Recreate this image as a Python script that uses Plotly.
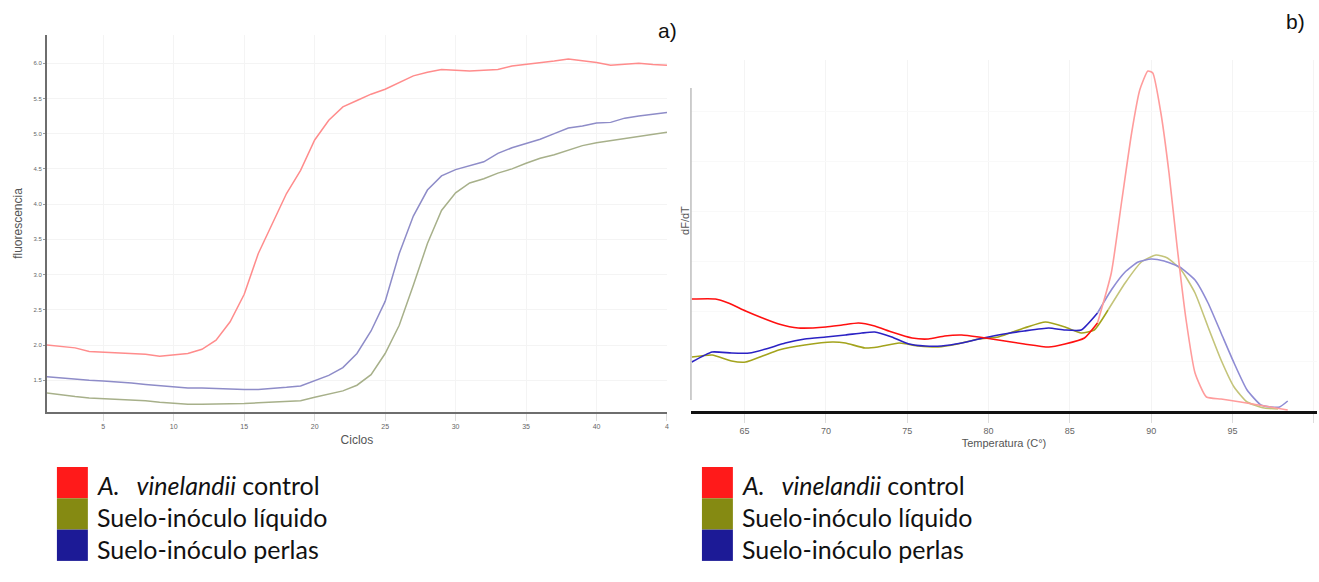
import plotly.graph_objects as go

W, H = 1319, 582

# ---------- Panel a) amplification curves ----------
cycles = list(range(1, 46))
a_control = [2.00, 1.98, 1.96, 1.91, 1.90, 1.89, 1.89, 1.87, 1.84, 1.86,
             1.88, 1.94, 2.07, 2.33, 2.72, 3.30, 3.72, 4.15, 4.48, 4.91,
             5.19, 5.38, 5.47, 5.56, 5.63, 5.73, 5.82, 5.87, 5.91, 5.90,
             5.89, 5.90, 5.91, 5.96, 5.98, 6.00, 6.03, 6.06, 6.04, 6.01,
             5.97, 5.98, 6.00, 5.98, 5.97]
a_liquido = [1.32, 1.29, 1.27, 1.25, 1.24, 1.24, 1.23, 1.21, 1.19, 1.17,
             1.16, 1.16, 1.16, 1.17, 1.17, 1.18, 1.19, 1.20, 1.21, 1.26,
             1.30, 1.35, 1.43, 1.58, 1.88, 2.28, 2.85, 3.44, 3.91, 4.16,
             4.30, 4.36, 4.44, 4.50, 4.58, 4.65, 4.70, 4.76, 4.83, 4.87,
             4.90, 4.92, 4.95, 4.98, 5.02]
a_perlas = [1.55, 1.53, 1.52, 1.50, 1.49, 1.48, 1.46, 1.44, 1.42, 1.40,
            1.39, 1.39, 1.38, 1.38, 1.37, 1.37, 1.38, 1.40, 1.42, 1.49,
            1.57, 1.68, 1.88, 2.20, 2.62, 3.30, 3.83, 4.20, 4.40, 4.49,
            4.54, 4.60, 4.72, 4.80, 4.86, 4.92, 5.00, 5.08, 5.11, 5.15,
            5.16, 5.22, 5.25, 5.27, 5.30]
a_xticks = [5, 10, 15, 20, 25, 30, 35, 40, 45]
a_xticklabels = ["5", "10", "15", "20", "25", "30", "35", "40", "4"]
a_yticks = [1.5, 2.0, 2.5, 3.0, 3.5, 4.0, 4.5, 5.0, 5.5, 6.0]

# ---------- Panel b) melting curves ----------
b_T_control = [61.75, 63.2, 64.0, 65.06, 66.1, 67.1, 68.3, 70.0, 71.0, 72.0,
               73.0, 74.05, 75.3, 76.3, 77.3, 78.35, 79.4, 80.6, 82.2, 83.7,
               84.7, 85.9, 86.7, 87.55, 88.2, 88.8, 89.3, 89.8, 90.1, 90.6,
               91.1, 91.6, 92.15, 92.7, 93.4, 94.3, 95.5, 96.96, 98.4]
b_control = [1.12, 1.12, 1.08, 1.00, 0.93, 0.87, 0.83, 0.84, 0.86, 0.88,
             0.85, 0.79, 0.73, 0.72, 0.75, 0.76, 0.74, 0.71, 0.67, 0.64,
             0.67, 0.73, 0.88, 1.38, 2.11, 2.78, 3.21, 3.40, 3.38, 2.98,
             2.38, 1.64, 0.91, 0.38, 0.14, 0.12, 0.09, 0.05, 0.01]
b_T_liquido = [61.75, 63.0, 64.2, 65.06, 66.1, 67.1, 68.7, 70.4, 71.2, 72.4,
               73.2, 74.5, 75.7, 76.9, 78.1, 79.4, 80.6, 82.2, 83.5, 84.7,
               85.7, 86.5, 87.35, 88.4, 89.4, 90.3, 91.0, 91.85, 92.7, 93.5,
               94.3, 95.1, 95.9, 96.96, 97.8]
b_liquido = [0.54, 0.56, 0.50, 0.49, 0.55, 0.61, 0.66, 0.69, 0.68, 0.63,
             0.64, 0.68, 0.65, 0.64, 0.67, 0.72, 0.74, 0.83, 0.89, 0.84,
             0.78, 0.81, 1.01, 1.28, 1.49, 1.56, 1.53, 1.41, 1.18, 0.84,
             0.51, 0.24, 0.09, 0.03, 0.02]
b_T_perlas = [61.75, 63.0, 64.2, 65.3, 66.3, 67.5, 68.7, 70.0, 71.2, 72.2,
              73.0, 74.05, 75.1, 76.1, 77.1, 78.35, 79.4, 80.6, 82.2, 83.7,
              84.7, 85.7, 86.7, 87.55, 88.4, 89.2, 90.0, 90.8, 91.75, 92.7,
              93.5, 94.3, 95.1, 95.9, 96.75, 97.4, 97.9, 98.4]
b_perlas = [0.49, 0.59, 0.58, 0.58, 0.62, 0.68, 0.72, 0.74, 0.76, 0.78,
            0.79, 0.74, 0.67, 0.65, 0.65, 0.68, 0.72, 0.76, 0.80, 0.83,
            0.81, 0.81, 0.98, 1.21, 1.39, 1.49, 1.52, 1.50, 1.44, 1.31,
            1.08, 0.78, 0.48, 0.21, 0.06, 0.04, 0.04, 0.10]
b_xticks = [65, 70, 75, 80, 85, 90, 95, 100]

legend_labels = ["<i>A.   vinelandii</i> control", "Suelo-inóculo líquido", "Suelo-inóculo perlas"]
legend_colors = ["#ff1a1a", "#858a12", "#1c1a96"]

fig = go.Figure()

# panel a traces
fig.add_trace(go.Scatter(x=cycles, y=a_control, mode="lines", line=dict(color="#ff8c8c", width=1.5),
                         xaxis="x", yaxis="y", showlegend=False))
fig.add_trace(go.Scatter(x=cycles, y=a_liquido, mode="lines", line=dict(color="#a7b08a", width=1.5),
                         xaxis="x", yaxis="y", showlegend=False))
fig.add_trace(go.Scatter(x=cycles, y=a_perlas, mode="lines", line=dict(color="#8e8cc8", width=1.5),
                         xaxis="x", yaxis="y", showlegend=False))


def split_add(T, v, cut, c_left, c_right):
    left_T = [t for t in T if t <= cut]
    n = len(left_T)
    fig.add_trace(go.Scatter(x=T[:n + 1], y=v[:n + 1], mode="lines",
                             line=dict(color=c_left, width=1.6, shape="spline", smoothing=0.5),
                             xaxis="x2", yaxis="y2", showlegend=False))
    fig.add_trace(go.Scatter(x=T[n:], y=v[n:], mode="lines",
                             line=dict(color=c_right, width=1.6, shape="spline", smoothing=0.5),
                             xaxis="x2", yaxis="y2", showlegend=False))


split_add(b_T_liquido, b_liquido, 86.6, "#a3a31c", "#c4c47a")
split_add(b_T_perlas, b_perlas, 86.6, "#2b22c4", "#8f8cd4")
split_add(b_T_control, b_control, 86.6, "#ff1010", "#ff9c9c")

grid = "#f4f4f4"
tickc = "#666666"

xa_dom = [47 / W, 668 / W]
ya_dom = [1 - 412 / H, 1 - 35 / H]
xb_dom = [692 / W, 1.0]
yb_dom = [1 - 411 / H, 1 - 60 / H]

fig.update_layout(
    width=W, height=H,
    margin=dict(l=0, r=0, t=0, b=0),
    paper_bgcolor="white", plot_bgcolor="white",
    font=dict(family="Liberation Sans, Arial, sans-serif"),
    xaxis=dict(domain=xa_dom, range=[1, 45], tickmode="array", tickvals=a_xticks,
               ticktext=a_xticklabels, tickfont=dict(size=7, color=tickc),
               ticks="outside", ticklen=7, tickcolor="#dddddd",
               showgrid=True, gridcolor=grid, zeroline=False,
               showline=True, linecolor="#6e6e6e", linewidth=2,
               title=dict(text="Ciclos", font=dict(size=12, color="#555555"), standoff=6),
               anchor="y"),
    yaxis=dict(domain=ya_dom, range=[1.05, 6.4], tickmode="array", tickvals=a_yticks,
               ticktext=[f"{t:.1f}" for t in a_yticks], tickfont=dict(size=6, color=tickc),
               ticks="outside", ticklen=2, tickcolor="#999999",
               showgrid=True, gridcolor=grid, zeroline=False,
               showline=True, linecolor="#6e6e6e", linewidth=2,
               title=dict(text="fluorescencia", font=dict(size=12, color="#555555"), standoff=8),
               anchor="x"),
    xaxis2=dict(domain=xb_dom, range=[61.7, 100.2], tickmode="array", tickvals=b_xticks,
                tickfont=dict(size=9, color=tickc, family="Liberation Sans Narrow, Liberation Sans, sans-serif"),
                ticks="outside", ticklen=9, tickcolor="#dddddd",
                showgrid=True, gridcolor=grid, zeroline=False,
                showline=True, linecolor="#111111", linewidth=3,
                title=dict(text="Temperatura (C°)", font=dict(size=11, color="#555555"), standoff=5),
                anchor="y2"),
    yaxis2=dict(domain=yb_dom, range=[0, 3.51], showticklabels=False, ticks="",
                showgrid=True, gridcolor="#f9f9f9", zeroline=False, showline=False,
                anchor="x2"),
)

shapes = [
    # light y-axis line of panel b
    dict(type="line", xref="paper", yref="paper", x0=692 / W, x1=692 / W,
         y0=1 - 400 / H, y1=1 - 88 / H, line=dict(color="#bdbdbd", width=1.5)),
]
annotations = [
    dict(text="a)", x=680 / W, y=1 - 30 / H, xref="paper", yref="paper", xanchor="right",
         yanchor="middle", showarrow=False, font=dict(size=21, color="#111111")),
    dict(text="b)", x=1309 / W, y=1 - 22 / H, xref="paper", yref="paper", xanchor="right",
         yanchor="middle", showarrow=False, font=dict(size=21, color="#111111")),
    dict(text="dF/dT", x=686 / W, y=1 - 220 / H, xref="paper", yref="paper", textangle=-90,
         xanchor="center", yanchor="middle", showarrow=False, font=dict(size=11, color="#555555")),
]

row_y = [485, 517, 549]
for x_sq, x_txt in [(57, 95), (703, 741)]:
    for i, (lab, col) in enumerate(zip(legend_labels, legend_colors)):
        y0 = 467 + i * 31.3
        shapes.append(dict(type="rect", xref="paper", yref="paper",
                           x0=x_sq / W, x1=(x_sq + 31) / W,
                           y0=1 - (y0 + 31.3) / H, y1=1 - y0 / H,
                           fillcolor=col, line=dict(width=0)))
        annotations.append(dict(text=lab, x=x_txt / W, y=1 - row_y[i] / H, xref="paper", yref="paper",
                                xanchor="left", yanchor="middle", showarrow=False,
                                font=dict(size=25, color="#111111", family="Lato, Liberation Sans, sans-serif")))

fig.update_layout(shapes=shapes, annotations=annotations)

fig.write_html("out.html")
